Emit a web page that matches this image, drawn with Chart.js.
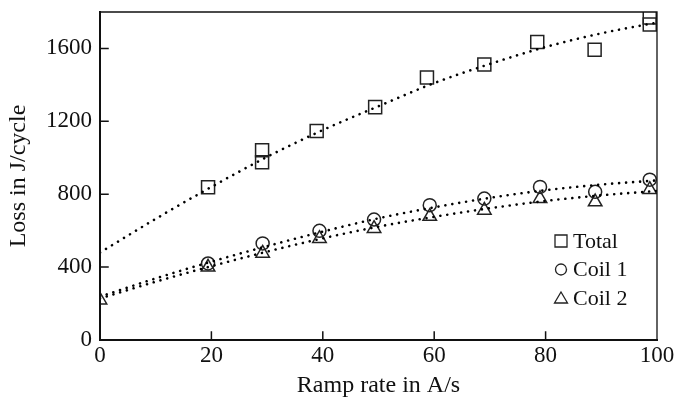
<!DOCTYPE html>
<html><head><meta charset="utf-8">
<script src="https://cdn.jsdelivr.net/npm/chart.js@4/dist/chart.umd.min.js"></script>
<style>html,body{margin:0;padding:0;background:#fff;}</style>
</head><body>
<canvas id="c" width="677" height="399"></canvas>
<script>
// ---- data ----
const totalX = [19.4, 29.1, 29.1, 38.9, 49.4, 58.7, 69.0, 78.5, 88.8, 98.7, 98.7];
const totalY = [838, 1041, 975, 1147, 1278, 1441, 1512, 1635, 1593, 1770, 1732];
const coilX  = [19.4, 29.2, 39.4, 49.2, 59.2, 69.0, 79.0, 88.9, 98.7];
const coil1Y = [420, 530, 599, 661, 740, 776, 840, 813, 880];
const coil2X = [0, 19.4, 29.2, 39.4, 49.2, 59.2, 69.0, 79.0, 88.9, 98.7];
const coil2Y = [219, 400, 476, 557, 612, 678, 712, 776, 758, 826];
const fitX      = [0, 10, 20, 30, 40, 50, 60, 70, 80, 90, 100];
const totalFit  = [480, 665, 840, 1005, 1152, 1283, 1410, 1515, 1608, 1683, 1742];
const coil1Fit  = [238, 338, 430, 515, 595, 668, 728, 780, 822, 853, 876];
const coil2Fit  = [228, 320, 405, 485, 558, 622, 676, 723, 763, 794, 818];
const xTicks = [0, 20, 40, 60, 80, 100];
const yTicks = [0, 400, 800, 1200, 1600];
const seriesNames = ['Total', 'Coil 1', 'Coil 2'];

const pts = (xs, ys) => xs.map((x, i) => ({x, y: ys[i]}));
const INK = '#111';
const FONT = "'Liberation Serif','Times New Roman',serif";
Chart.defaults.font.family = FONT;
Chart.defaults.color = INK;

const fitStyle = {
  type: 'line', showLine: true, pointRadius: 0, borderColor: '#000',
  borderWidth: 2.6, borderDash: [0.01, 7], borderCapStyle: 'round',
  cubicInterpolationMode: 'monotone', fill: false
};
const markStyle = {
  type: 'scatter', showLine: false, borderColor: '#222', backgroundColor: 'rgba(0,0,0,0)',
  borderWidth: 1.5
};

const frame = {
  id: 'frame',
  afterDatasetsDraw(chart) {
    const {ctx, chartArea: a, scales: {x, y}} = chart;
    ctx.save();
    ctx.strokeStyle = INK;
    ctx.lineCap = 'square';
    ctx.lineWidth = 1.3;
    ctx.beginPath();
    ctx.moveTo(a.left, a.top); ctx.lineTo(a.right, a.top); ctx.lineTo(a.right, a.bottom);
    ctx.stroke();
    ctx.lineWidth = 2;
    ctx.beginPath();
    ctx.moveTo(a.left, a.top); ctx.lineTo(a.left, a.bottom); ctx.lineTo(a.right, a.bottom);
    ctx.stroke();
    ctx.lineWidth = 1.5;
    ctx.beginPath();
    x.ticks.forEach(t => {
      if (t.value > x.min && t.value < x.max) {
        const p = x.getPixelForValue(t.value);
        ctx.moveTo(p, a.bottom); ctx.lineTo(p, a.bottom - 8);
      }
    });
    y.ticks.forEach(t => {
      if (t.value > y.min && t.value < y.max) {
        const p = y.getPixelForValue(t.value);
        ctx.moveTo(a.left, p); ctx.lineTo(a.left + 8, p);
      }
    });
    ctx.stroke();
    // legend
    const lx = a.right - 96, rows = [a.bottom - 99, a.bottom - 70.5, a.bottom - 42];
    ctx.strokeStyle = '#222'; ctx.lineWidth = 1.3;
    ctx.fillStyle = INK;
    ctx.font = '22px ' + FONT;
    ctx.textBaseline = 'middle'; ctx.textAlign = 'left';
    rows.forEach((ry, i) => {
      ctx.beginPath();
      if (i === 0) ctx.rect(lx - 6, ry - 6, 12, 12);
      else if (i === 1) ctx.arc(lx, ry, 5.5, 0, Math.PI * 2);
      else { ctx.moveTo(lx, ry - 6); ctx.lineTo(lx + 6.5, ry + 5); ctx.lineTo(lx - 6.5, ry + 5); ctx.closePath(); }
      ctx.stroke();
      ctx.fillText(seriesNames[i], lx + 12, ry + 1);
    });
    ctx.restore();
  }
};

new Chart(document.getElementById('c'), {
  type: 'scatter',
  data: {
    datasets: [
      Object.assign({label: 'Total fit', data: pts(fitX, totalFit)}, fitStyle),
      Object.assign({label: 'Coil 1 fit', data: pts(fitX, coil1Fit)}, fitStyle),
      Object.assign({label: 'Coil 2 fit', data: pts(fitX, coil2Fit)}, fitStyle),
      Object.assign({label: seriesNames[0], data: pts(totalX, totalY), pointStyle: 'rect', pointRadius: 9.2}, markStyle),
      Object.assign({label: seriesNames[1], data: pts(coilX, coil1Y), pointStyle: 'circle', pointRadius: 6.5}, markStyle),
      Object.assign({label: seriesNames[2], data: pts(coil2X, coil2Y), pointStyle: 'triangle', pointRadius: 7.8}, markStyle)
    ]
  },
  options: {
    responsive: false, animation: false, devicePixelRatio: 1,
    layout: {padding: {top: 12, right: 20, bottom: 0, left: 0}},
    plugins: {legend: {display: false}, tooltip: {enabled: false}},
    scales: {
      x: {
        type: 'linear', min: 0, max: 100,
        afterBuildTicks: s => { s.ticks = xTicks.map(v => ({value: v})); },
        afterFit: s => { s.height = 59; s.paddingLeft = 0; s.paddingRight = 0; },
        grid: {display: false, drawTicks: false},
        border: {display: false},
        ticks: {font: {size: 23}, color: INK, padding: 2, maxRotation: 0, callback: v => String(v)},
        title: {display: true, text: 'Ramp rate in A/s', font: {size: 24}, color: INK, padding: {top: 0, bottom: -1}}
      },
      y: {
        type: 'linear', min: 0, max: 1800,
        afterBuildTicks: s => { s.ticks = yTicks.map(v => ({value: v})); },
        afterFit: s => { s.width = 100; s.paddingTop = 0; s.paddingBottom = 0; },
        grid: {display: false, drawTicks: false},
        border: {display: false},
        ticks: {font: {size: 23}, color: INK, padding: 8, callback: v => String(v)},
        title: {display: true, text: 'Loss in J/cycle', font: {size: 24}, color: INK, padding: {top: 4, bottom: 0}}
      }
    }
  },
  plugins: [frame]
});
</script>
</body></html>
